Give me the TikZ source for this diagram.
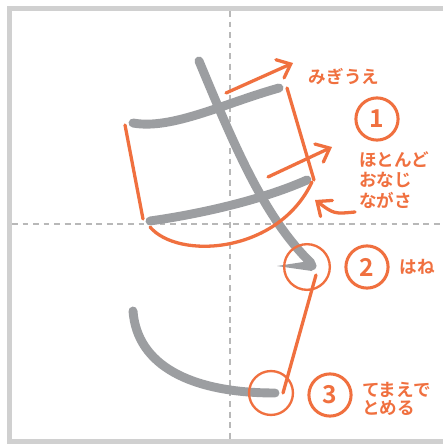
\documentclass[tikz,border=0pt]{standalone}
\usepackage{fontspec}
\usepackage{xcolor}
\usepackage{tikz}
\usetikzlibrary{arrows.meta,calc}
\newfontfamily\jpfont{Noto Sans CJK JP}[UprightFont=* Bold]
\definecolor{kaki}{HTML}{F0703F}
\definecolor{sumi}{HTML}{9C9EA1}
\definecolor{keisen}{HTML}{B8B8B8}
\definecolor{waku}{HTML}{D0D0D0}
\tikzset{
  fude/.style={sumi,line width=7.6pt,line cap=round},
  aka/.style={kaki,line width=2.8pt,line cap=round},
  yaji/.style={aka,-{Straight Barb[length=10pt,width=17pt,line cap=round]}},
  guide/.style={keisen,line width=1.2pt,dash pattern=on 5pt off 4pt},
  maru/.style={circle,draw=kaki,line width=2.6pt,minimum size=36pt,inner sep=0pt,
    text=kaki,font=\jpfont\fontsize{21}{21}\selectfont},
  wa/.style={circle,draw=kaki,line width=2pt,inner sep=0pt},
  moji/.style={text=kaki,inner sep=0pt,font=\jpfont\fontsize{15}{17.5}\selectfont}
}
\begin{document}
\begin{tikzpicture}[x=0.03cm,y=-0.03cm]
      \useasboundingbox (0,0) rectangle (443,444);
      \fill[white] (0,0) rectangle (443,444);
      \draw[waku,line width=4.4pt] (443,8.5) -- (9.5,8.5) -- (9.5,442) -- (443,442);

      % guide lines
      \draw[guide] (230,11) -- (230,440);
      \draw[guide] (12,224) -- (443,224);

      % strokes of the letter
      \draw[fude] (133,123) .. controls (172,130) and (225,103) .. (279,88);
      \draw[fude] (150,221) .. controls (200,214) and (262,200) .. (307,180);
      \draw[fude] (199,61) .. controls (236,150) and (265,218) .. (311,263);
      \fill[sumi] (313,260.5) -- (277,266) -- (312,271) -- cycle;
      \fill[sumi] (312,265.8) circle (4.6);
      \draw[fude] (133,311) .. controls (137,365) and (190,393) .. (275,393);

      % same length
      \draw[aka] (125,125) -- (143,219);
      \draw[aka] (287,88) -- (314,180);
      \draw[aka] (150,227) .. controls (178,260) and (278,254) .. (312,182);

      % right up
      \coordinate (a1) at (226,93);
      \coordinate (b1) at (293,63);
      \coordinate (a2) at (268,177);
      \coordinate (b2) at (332,147);
      \draw[yaji] (a1) -- (b1);
      \draw[yaji] (a2) -- (b2);

      % labels
      \node[moji] (migiue) at (344,77) {みぎうえ};
      \node[maru] (m1) at (377,119) {1};
      \node[moji,align=left,anchor=west] (nagasa) at (359,180) {ほとんど\\おなじ\\ながさ};
      \coordinate (c1) at (355,212);
      \coordinate (c2) at (315,200);
      \draw[yaji] (c1) .. controls (334,214) .. (c2);

      \node[wa,minimum size=39pt] (hane) at (307,267) {};
      \node[maru] (m2) at (367,267) {2};
      \node[moji] (hanet) at (417,267) {はね};

      \node[wa,minimum size=37.5pt] (tome) at (271,393) {};
      \node[maru] (m3) at (330,395) {3};
      \node[moji,align=left,anchor=west,font=\jpfont\fontsize{15}{15.5}\selectfont] (tomet) at (362,399) {てまえで\\とめる};

      \coordinate (p) at (316,275);
      \coordinate (q) at (283,393);
      \draw[aka] (p) -- (q);
\end{tikzpicture}
\end{document}
